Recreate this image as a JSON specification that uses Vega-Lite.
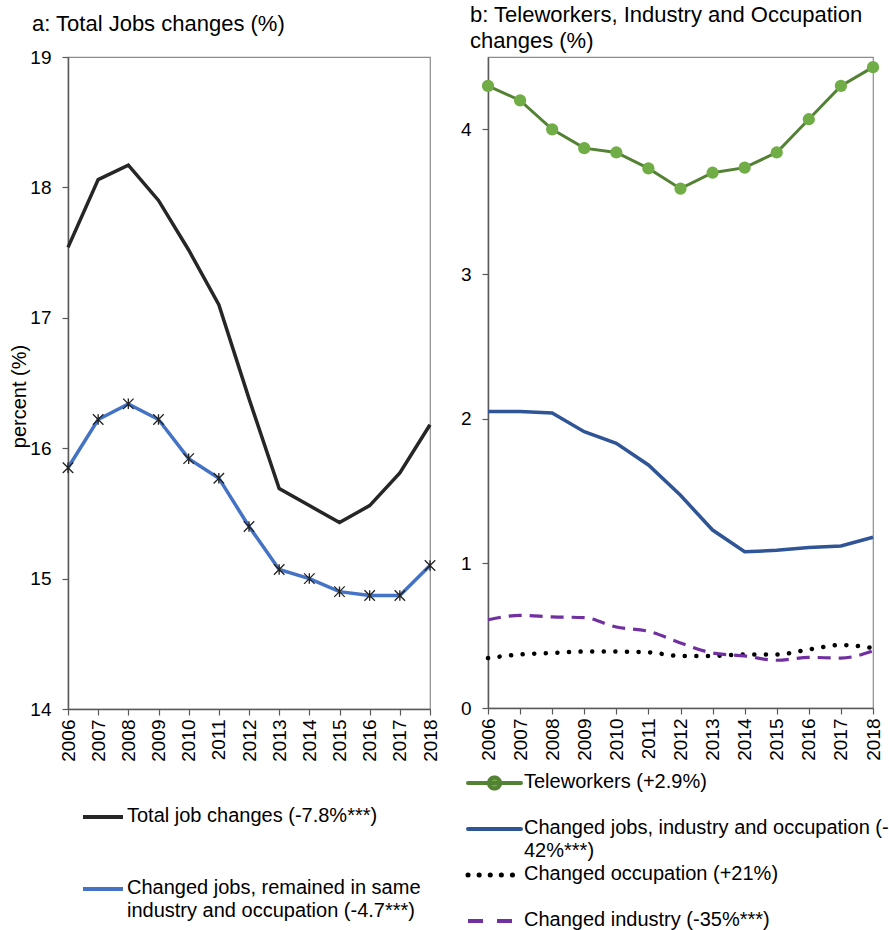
{
  "$schema": "https://vega.github.io/schema/vega-lite/v6.json",
  "background": "white",
  "padding": {"left": 9, "top": 3, "right": 5, "bottom": 5},
  "spacing": 18,
  "resolve": {"scale": {"color": "independent"}, "legend": {"color": "independent"}},
  "config": {
    "font": "Liberation Sans",
    "view": {"stroke": "#8c8c8c", "strokeWidth": 1.2},
    "axis": {"domainColor": "#595959", "domainWidth": 1.5, "tickColor": "#595959", "tickWidth": 1.2, "tickSize": 6, "labelColor": "#000000", "labelFontSize": 19, "labelFont": "Liberation Sans", "grid": false, "labelPadding": 4},
    "title": {"font": "Liberation Sans", "fontSize": 22, "fontWeight": "normal", "color": "#000000", "anchor": "start", "frame": "group", "baseline": "bottom", "lineHeight": 26},
    "legend": {"orient": "none", "title": null, "labelFont": "Liberation Sans", "labelFontSize": 20, "labelColor": "#000000", "labelLimit": 450, "labelOffset": 4, "padding": 0, "symbolType": "stroke", "symbolStrokeWidth": 4}
  },
  "datasets": {
    "left": [
      {"series": "Total job changes (-7.8%***)", "year": 2006, "value": 17.54},
      {"series": "Total job changes (-7.8%***)", "year": 2007, "value": 18.06},
      {"series": "Total job changes (-7.8%***)", "year": 2008, "value": 18.17},
      {"series": "Total job changes (-7.8%***)", "year": 2009, "value": 17.90},
      {"series": "Total job changes (-7.8%***)", "year": 2010, "value": 17.52},
      {"series": "Total job changes (-7.8%***)", "year": 2011, "value": 17.10},
      {"series": "Total job changes (-7.8%***)", "year": 2012, "value": 16.38},
      {"series": "Total job changes (-7.8%***)", "year": 2013, "value": 15.69},
      {"series": "Total job changes (-7.8%***)", "year": 2014, "value": 15.56},
      {"series": "Total job changes (-7.8%***)", "year": 2015, "value": 15.43},
      {"series": "Total job changes (-7.8%***)", "year": 2016, "value": 15.56},
      {"series": "Total job changes (-7.8%***)", "year": 2017, "value": 15.81},
      {"series": "Total job changes (-7.8%***)", "year": 2018, "value": 16.18},
      {"series": "Changed jobs, remained in same industry and occupation (-4.7***)", "year": 2006, "value": 15.85},
      {"series": "Changed jobs, remained in same industry and occupation (-4.7***)", "year": 2007, "value": 16.22},
      {"series": "Changed jobs, remained in same industry and occupation (-4.7***)", "year": 2008, "value": 16.34},
      {"series": "Changed jobs, remained in same industry and occupation (-4.7***)", "year": 2009, "value": 16.22},
      {"series": "Changed jobs, remained in same industry and occupation (-4.7***)", "year": 2010, "value": 15.92},
      {"series": "Changed jobs, remained in same industry and occupation (-4.7***)", "year": 2011, "value": 15.77},
      {"series": "Changed jobs, remained in same industry and occupation (-4.7***)", "year": 2012, "value": 15.40},
      {"series": "Changed jobs, remained in same industry and occupation (-4.7***)", "year": 2013, "value": 15.07},
      {"series": "Changed jobs, remained in same industry and occupation (-4.7***)", "year": 2014, "value": 15.00},
      {"series": "Changed jobs, remained in same industry and occupation (-4.7***)", "year": 2015, "value": 14.90},
      {"series": "Changed jobs, remained in same industry and occupation (-4.7***)", "year": 2016, "value": 14.87},
      {"series": "Changed jobs, remained in same industry and occupation (-4.7***)", "year": 2017, "value": 14.87},
      {"series": "Changed jobs, remained in same industry and occupation (-4.7***)", "year": 2018, "value": 15.10}
    ],
    "right": [
      {"series": "Teleworkers (+2.9%)", "year": 2006, "value": 4.30},
      {"series": "Teleworkers (+2.9%)", "year": 2007, "value": 4.20},
      {"series": "Teleworkers (+2.9%)", "year": 2008, "value": 4.00},
      {"series": "Teleworkers (+2.9%)", "year": 2009, "value": 3.87},
      {"series": "Teleworkers (+2.9%)", "year": 2010, "value": 3.84},
      {"series": "Teleworkers (+2.9%)", "year": 2011, "value": 3.73},
      {"series": "Teleworkers (+2.9%)", "year": 2012, "value": 3.59},
      {"series": "Teleworkers (+2.9%)", "year": 2013, "value": 3.70},
      {"series": "Teleworkers (+2.9%)", "year": 2014, "value": 3.735},
      {"series": "Teleworkers (+2.9%)", "year": 2015, "value": 3.84},
      {"series": "Teleworkers (+2.9%)", "year": 2016, "value": 4.07},
      {"series": "Teleworkers (+2.9%)", "year": 2017, "value": 4.30},
      {"series": "Teleworkers (+2.9%)", "year": 2018, "value": 4.43},
      {"series": "Changed jobs, industry and occupation (-42%***)", "year": 2006, "value": 2.05},
      {"series": "Changed jobs, industry and occupation (-42%***)", "year": 2007, "value": 2.05},
      {"series": "Changed jobs, industry and occupation (-42%***)", "year": 2008, "value": 2.04},
      {"series": "Changed jobs, industry and occupation (-42%***)", "year": 2009, "value": 1.91},
      {"series": "Changed jobs, industry and occupation (-42%***)", "year": 2010, "value": 1.83},
      {"series": "Changed jobs, industry and occupation (-42%***)", "year": 2011, "value": 1.68},
      {"series": "Changed jobs, industry and occupation (-42%***)", "year": 2012, "value": 1.47},
      {"series": "Changed jobs, industry and occupation (-42%***)", "year": 2013, "value": 1.23},
      {"series": "Changed jobs, industry and occupation (-42%***)", "year": 2014, "value": 1.08},
      {"series": "Changed jobs, industry and occupation (-42%***)", "year": 2015, "value": 1.09},
      {"series": "Changed jobs, industry and occupation (-42%***)", "year": 2016, "value": 1.11},
      {"series": "Changed jobs, industry and occupation (-42%***)", "year": 2017, "value": 1.12},
      {"series": "Changed jobs, industry and occupation (-42%***)", "year": 2018, "value": 1.18},
      {"series": "Changed occupation (+21%)", "year": 2006, "value": 0.345},
      {"series": "Changed occupation (+21%)", "year": 2007, "value": 0.37},
      {"series": "Changed occupation (+21%)", "year": 2008, "value": 0.38},
      {"series": "Changed occupation (+21%)", "year": 2009, "value": 0.39},
      {"series": "Changed occupation (+21%)", "year": 2010, "value": 0.39},
      {"series": "Changed occupation (+21%)", "year": 2011, "value": 0.385},
      {"series": "Changed occupation (+21%)", "year": 2012, "value": 0.36},
      {"series": "Changed occupation (+21%)", "year": 2013, "value": 0.36},
      {"series": "Changed occupation (+21%)", "year": 2014, "value": 0.37},
      {"series": "Changed occupation (+21%)", "year": 2015, "value": 0.37},
      {"series": "Changed occupation (+21%)", "year": 2016, "value": 0.405},
      {"series": "Changed occupation (+21%)", "year": 2017, "value": 0.435},
      {"series": "Changed occupation (+21%)", "year": 2018, "value": 0.415},
      {"series": "Changed industry (-35%***)", "year": 2006, "value": 0.61},
      {"series": "Changed industry (-35%***)", "year": 2007, "value": 0.64},
      {"series": "Changed industry (-35%***)", "year": 2008, "value": 0.63},
      {"series": "Changed industry (-35%***)", "year": 2009, "value": 0.625},
      {"series": "Changed industry (-35%***)", "year": 2010, "value": 0.56},
      {"series": "Changed industry (-35%***)", "year": 2011, "value": 0.53},
      {"series": "Changed industry (-35%***)", "year": 2012, "value": 0.45},
      {"series": "Changed industry (-35%***)", "year": 2013, "value": 0.38},
      {"series": "Changed industry (-35%***)", "year": 2014, "value": 0.36},
      {"series": "Changed industry (-35%***)", "year": 2015, "value": 0.33},
      {"series": "Changed industry (-35%***)", "year": 2016, "value": 0.35},
      {"series": "Changed industry (-35%***)", "year": 2017, "value": 0.345},
      {"series": "Changed industry (-35%***)", "year": 2018, "value": 0.395}
    ]
  },
  "hconcat": [
    {
      "width": 362,
      "height": 652,
      "title": {"text": "a: Total Jobs changes  (%)", "dx": -36, "offset": 12},
      "data": {"name": "left"},
      "encoding": {
        "x": {"field": "year", "type": "ordinal", "scale": {"type": "point", "padding": 0}, "axis": {"title": null, "labelAngle": -90, "labelPadding": 4}},
        "y": {"field": "value", "type": "quantitative", "scale": {"domain": [14, 19], "nice": false, "zero": false}, "axis": {"title": "percent (%)", "values": [14, 15, 16, 17, 18, 19], "labelPadding": 11, "titleFont": "Liberation Sans", "titleFontSize": 20, "titleFontWeight": "normal", "titleColor": "#000000", "titleY": 339, "titlePadding": 0}},
        "color": {
          "field": "series", "type": "nominal", "sort": null,
          "scale": {"domain": ["Total job changes (-7.8%***)", "Changed jobs, remained in same industry and occupation (-4.7***)"], "range": ["#262626", "#4472C4"]},
          "legend": {
            "legendX": 13, "legendY": 738, "symbolSize": 1600, "rowPadding": 41, "labelOffset": 2,
            "labelExpr": "datum.label === 'Changed jobs, remained in same industry and occupation (-4.7***)' ? ['Changed jobs, remained in same', 'industry and occupation (-4.7***)'] : datum.label",
            "encode": {
              "labels": {"update": {"lineHeight": {"value": 23}, "baseline": {"value": "top"}, "dy": {"value": -11}}},
              "symbols": {"update": {"strokeWidth": {"value": 4}}}
            }
          }
        }
      },
      "layer": [
        {"mark": {"type": "line", "strokeWidth": 3.5}},
        {
          "transform": [{"filter": "datum.series === 'Changed jobs, remained in same industry and occupation (-4.7***)'"}],
          "mark": {"type": "point", "shape": "M-1,-1L1,1M-1,1L1,-1M0,-1L0,1", "filled": false, "strokeWidth": 1.3, "size": 110, "opacity": 1},
          "encoding": {"color": {"value": "#222222"}}
        }
      ]
    },
    {
      "width": 385,
      "height": 651,
      "title": {"text": ["b: Teleworkers, Industry and Occupation", "changes  (%)"], "dx": -18, "offset": 4},
      "data": {"name": "right"},
      "encoding": {
        "x": {"field": "year", "type": "ordinal", "scale": {"type": "point", "padding": 0}, "axis": {"title": null, "labelAngle": -90, "labelPadding": 4}},
        "y": {"field": "value", "type": "quantitative", "scale": {"domain": [0, 4.5], "nice": false}, "axis": {"title": null, "values": [0, 1, 2, 3, 4], "labelPadding": 11}},
        "color": {
          "field": "series", "type": "nominal", "sort": null,
          "scale": {"domain": ["Teleworkers (+2.9%)", "Changed jobs, industry and occupation (-42%***)", "Changed occupation (+21%)", "Changed industry (-35%***)"], "range": ["#548235", "#2F5597", "#000000", "#7030A0"]},
          "legend": {
            "legendX": -3.5, "legendY": 716, "symbolSize": 2809, "rowPadding": 3, "labelOffset": 19.5,
            "labelExpr": "datum.label === 'Changed jobs, industry and occupation (-42%***)' ? ['Changed jobs, industry and occupation (-', '42%***)'] : [datum.label, ' ']",
            "encode": {
              "labels": {"update": {"lineHeight": {"value": 23}, "baseline": {"value": "top"}, "dy": {"value": -11}}},
              "symbols": {"update": {
                "shape": {"signal": "datum.value === 'Teleworkers (+2.9%)' ? 'M-1,0L1,0M-0.21,0A0.21,0.21,0,1,0,0.21,0A0.21,0.21,0,1,0,-0.21,0Z' : 'stroke'"},
                "fill": {"signal": "datum.value === 'Teleworkers (+2.9%)' ? '#70AD47' : 'transparent'"},
                "strokeDash": {"signal": "datum.value === 'Changed occupation (+21%)' ? [0.1, 11] : datum.value === 'Changed industry (-35%***)' ? [15, 14] : [1, 0]"},
                "strokeCap": {"signal": "datum.value === 'Changed industry (-35%***)' ? 'butt' : 'round'"},
                "strokeWidth": {"signal": "datum.value === 'Changed occupation (+21%)' ? 5 : 4"}
              }}
            }
          }
        }
      },
      "layer": [
        {"transform": [{"filter": "datum.series === 'Teleworkers (+2.9%)'"}], "mark": {"type": "line", "strokeWidth": 3}},
        {"transform": [{"filter": "datum.series === 'Changed jobs, industry and occupation (-42%***)'"}], "mark": {"type": "line", "strokeWidth": 3.5}},
        {"transform": [{"filter": "datum.series === 'Changed occupation (+21%)'"}], "mark": {"type": "line", "strokeWidth": 4.5, "strokeDash": [0.1, 11.5], "strokeCap": "round", "interpolate": "monotone"}},
        {"transform": [{"filter": "datum.series === 'Changed industry (-35%***)'"}], "mark": {"type": "line", "strokeWidth": 3.2, "strokeDash": [13, 8], "interpolate": "monotone"}},
        {"transform": [{"filter": "datum.series === 'Teleworkers (+2.9%)'"}], "mark": {"type": "point", "filled": true, "size": 150, "opacity": 1, "shape": "circle"}, "encoding": {"color": {"value": "#70AD47"}}}
      ]
    }
  ]
}
